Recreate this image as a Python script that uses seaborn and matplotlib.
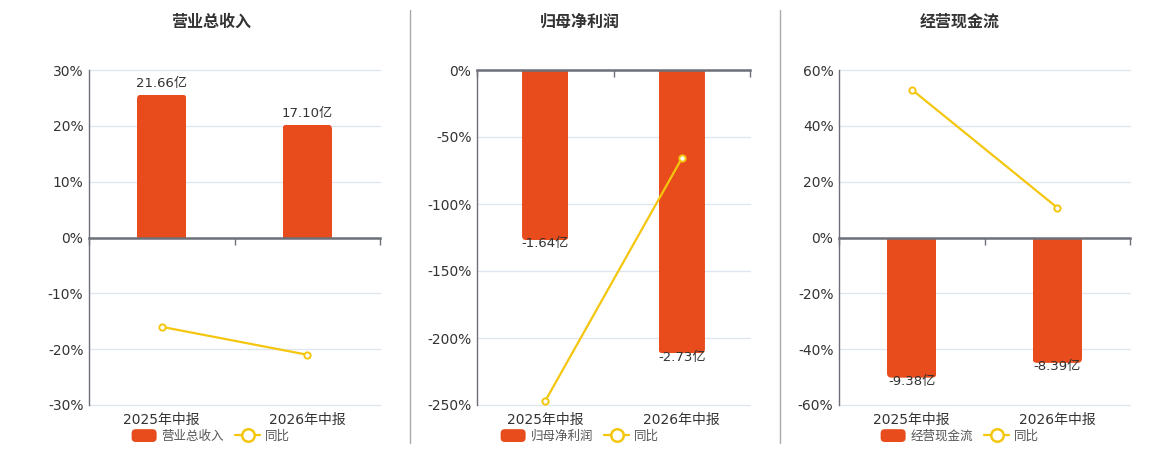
import numpy as np
import pandas as pd
import matplotlib
matplotlib.use("Agg")
import matplotlib.pyplot as plt
import seaborn as sns
from matplotlib.patches import FancyBboxPatch, Patch
from matplotlib.lines import Line2D
from matplotlib.ticker import FuncFormatter
from matplotlib.legend_handler import HandlerPatch

sns.set_theme(style="white")
plt.rcParams['font.family'] = ['DejaVu Sans', 'Noto Sans CJK SC']
plt.rcParams['axes.unicode_minus'] = False

# ---------------- data ----------------
periods = ["2025年中报", "2026年中报"]

titles = ["营业总收入", "归母净利润", "经营现金流"]

revenue = [21.66, 17.10]          # 亿
revenue_yoy = [-16.0, -21.0]      # %

net_profit = [-1.64, -2.73]       # 亿
net_profit_yoy = [-247.0, -66.0]  # %

cash_flow = [-9.38, -8.39]        # 亿
cash_flow_yoy = [53.0, 10.7]      # %

pct_ticks = [
    [-30, -20, -10, 0, 10, 20, 30],
    [-250, -200, -150, -100, -50, 0],
    [-60, -40, -20, 0, 20, 40, 60],
]
bar_limits = [(-25.38, 25.38), (-3.228, 0.0), (-11.21, 11.21)]

BAR_COLOR = "#E84B1C"
LINE_COLOR = "#F4C60E"
AXIS_COLOR = "#6E7079"
GRID_COLOR = "#E0E6F1"
TEXT_COLOR = "#333333"

W, H = 1160, 450
fig = plt.figure(figsize=(W / 100, H / 100), dpi=100)

panels_px = [(89, 380), (477, 750), (839, 1130)]
top_px, bot_px = 70, 405
centers_px = [211, 580, 960]

bar_series = [revenue, net_profit, cash_flow]
yoy_series = [revenue_yoy, net_profit_yoy, cash_flow_yoy]


class RoundHandler(HandlerPatch):
    def create_artists(self, legend, orig_handle, xdescent, ydescent, width, height,
                       fontsize, trans):
        p = FancyBboxPatch((-xdescent, -ydescent), width, height,
                           boxstyle="round,pad=0,rounding_size=3",
                           facecolor=orig_handle.get_facecolor(), edgecolor="none",
                           transform=trans)
        return [p]


for i in range(3):
    l, r = panels_px[i]
    rect = [l / W, 1 - bot_px / H, (r - l) / W, (bot_px - top_px) / H]
    ax = fig.add_axes(rect)
    axb = ax.twinx()
    axl = ax.twinx()

    df = pd.DataFrame({"period": periods, "value": bar_series[i], "yoy": yoy_series[i]})

    sns.barplot(data=df, x="period", y="value", ax=axb, color=BAR_COLOR,
                saturation=1, width=0.34, errorbar=None)
    sns.pointplot(data=df, x="period", y="yoy", ax=axl, color=LINE_COLOR,
                  errorbar=None, markers="o")
    for ln in axl.lines:
        ln.set_linewidth(1.6)
        ln.set_markersize(4.5)
        ln.set_markerfacecolor("white")
        ln.set_markeredgecolor(LINE_COLOR)
        ln.set_markeredgewidth(1.4)
        ln.set_zorder(5)

    ticks = pct_ticks[i]
    ylim = (min(ticks), max(ticks))
    ax.set_ylim(ylim)
    axl.set_ylim(ylim)
    axb.set_ylim(bar_limits[i])
    ax.set_xlim(-0.5, len(periods) - 0.5)

    # base axis: grid, y ticks, category labels
    ax.set_yticks(ticks)
    ax.yaxis.set_major_formatter(FuncFormatter(lambda v, p: f"{v:.0f}%"))
    ax.grid(axis="y", color=GRID_COLOR, linewidth=1)
    ax.grid(axis="x", visible=False)
    for s in ["top", "right", "bottom"]:
        ax.spines[s].set_visible(False)
    ax.spines["left"].set_color(AXIS_COLOR)
    ax.spines["left"].set_linewidth(1)
    ax.tick_params(axis="y", length=0, pad=4, labelsize=10, labelcolor=TEXT_COLOR)
    ax.tick_params(axis="x", which="both", length=0, pad=6, labelsize=10, labelcolor=TEXT_COLOR)
    ax.set_xlabel("")
    ax.set_ylabel("")

    # bar axis hidden
    axb.set_yticks([])
    axb.set_ylabel("")
    for s in axb.spines.values():
        s.set_visible(False)

    # line axis: zero line with boundary ticks
    axl.set_yticks([])
    axl.set_ylabel("")
    axl.set_xlabel("")
    for s in ["top", "right", "left"]:
        axl.spines[s].set_visible(False)
    axl.xaxis.set_visible(True)
    axl.spines["bottom"].set_visible(True)
    axl.spines["bottom"].set_position(("data", 0))
    axl.spines["bottom"].set_color(AXIS_COLOR)
    axl.spines["bottom"].set_linewidth(1.8)
    axl.spines["bottom"].set_zorder(6)
    bounds = np.arange(len(periods) + 1) - 0.5
    axl.set_xticks(bounds, minor=True)
    axl.tick_params(axis="x", which="minor", length=5, width=1, color=AXIS_COLOR,
                    direction="out", bottom=True)
    axl.tick_params(axis="x", which="major", length=0, labelbottom=False, bottom=False)
    ax.set_xticks(range(len(periods)))
    ax.set_xticklabels(periods)
    ax.set_zorder(0)

    fig.canvas.draw()
    for gl in ax.get_ygridlines():
        gl.set_clip_on(False)

    # rounded bar ends
    p0 = axb.transData.transform((0, 0))
    p1 = axb.transData.transform((1, 1))
    px_x = abs(p1[0] - p0[0])
    px_y = abs(p1[1] - p0[1])
    r_px = 4.5
    r_x = r_px / px_x
    r_y = r_px / px_y
    for bar in list(axb.patches):
        x, w = bar.get_x(), bar.get_width()
        y, h = bar.get_y(), bar.get_height()
        y0, y1 = min(y, y + h), max(y, y + h)
        if h >= 0:
            y0 -= 2 * r_y
        else:
            y1 += 2 * r_y
        fb = FancyBboxPatch((x, y0), w, y1 - y0,
                            boxstyle=f"round,pad=0,rounding_size={r_x}",
                            mutation_aspect=r_y / r_x,
                            facecolor=BAR_COLOR, edgecolor="none",
                            transform=axb.transData)
        axb.add_patch(fb)
        fb.set_clip_path(bar)
        bar.set_visible(False)

    # bar value labels
    vals = bar_series[i]
    for j, v in enumerate(vals):
        if v >= 0:
            axb.annotate(f"{v:.2f}亿", (j, v), xytext=(0, 3), textcoords="offset points",
                         ha="center", va="bottom", fontsize=9.5, color=TEXT_COLOR)
        else:
            axb.annotate(f"{v:.2f}亿", (j, v), xytext=(0, 2), textcoords="offset points",
                         ha="center", va="top", fontsize=9.5, color=TEXT_COLOR, zorder=7)

    # title
    fig.text(centers_px[i] / W, 1 - 22 / H, titles[i], ha="center", va="center",
             fontsize=11.5, fontweight="bold", color=TEXT_COLOR,
             family=["Noto Sans CJK SC", "DejaVu Sans"])

    # legend
    handles = [
        Patch(facecolor=BAR_COLOR, edgecolor="none"),
        Line2D([], [], color=LINE_COLOR, lw=1.6, marker="o", ms=9,
               mfc="white", mec=LINE_COLOR, mew=1.8),
    ]
    fig.legend(handles, [titles[i], "同比"], loc="center",
               bbox_to_anchor=(centers_px[i] / W, 14 / H), ncol=2, frameon=False,
               handlelength=2.0, handleheight=1.2, handletextpad=0.4,
               columnspacing=0.9, labelcolor="#555555",
               handler_map={Patch: RoundHandler()},
               prop={"family": ["Noto Sans CJK SC", "DejaVu Sans"], "size": 9})

# separators
for xs in [410, 780]:
    fig.add_artist(Line2D([xs / W, xs / W], [1 - 443 / H, 1 - 10 / H],
                          transform=fig.transFigure, color="#AAAAAA", lw=1))

fig.savefig("out.png", dpi=100)
